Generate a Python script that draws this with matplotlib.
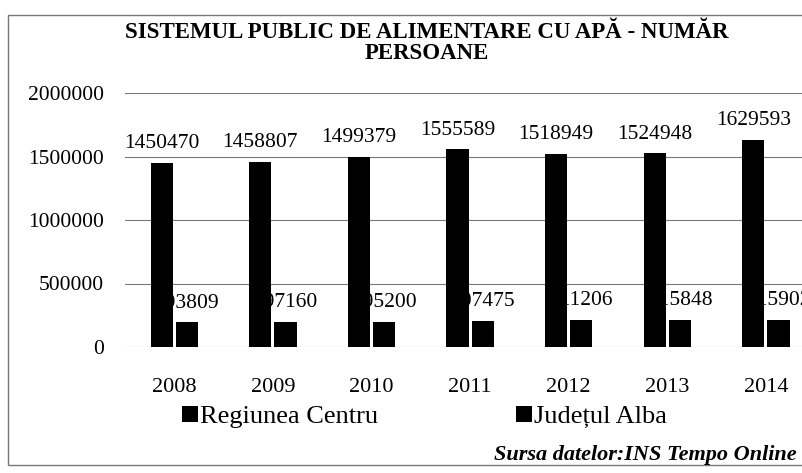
import matplotlib
matplotlib.use('Agg')
import matplotlib.pyplot as plt
from matplotlib.patches import Rectangle
import numpy as np

plt.rcParams['font.family'] = ['Liberation Serif', 'DejaVu Serif']

years = ['2008', '2009', '2010', '2011', '2012', '2013', '2014']
centru = [1450470, 1458807, 1499379, 1555589, 1518949, 1524948, 1629593]
alba = [193809, 197160, 195200, 207475, 211206, 215848, 215902]

W, H = 803, 473
fig = plt.figure(figsize=(W / 100, H / 100), dpi=100)
ax = fig.add_axes([125 / W, 1 - 347 / H, 1 - 125 / W, (347 - 93) / H])

x = np.arange(len(years))
w = 0.225
b1 = ax.bar(x - 0.127, centru, w, color='black', zorder=3, label='Regiunea Centru')
b2 = ax.bar(x + 0.127, alba, w, color='black', zorder=3, label='Județul Alba')

ax.bar_label(b1, labels=[str(v) for v in centru], padding=7, fontsize=15.5, zorder=4)
lab2 = ax.bar_label(b2, labels=[str(v) for v in alba], padding=7, fontsize=15.5)
for t in lab2:
    t.set_zorder(2)  # behind the Centru bars, like the original

ax.set_ylim(0, 2000000)
ax.set_yticks([0, 500000, 1000000, 1500000, 2000000])
ax.ticklabel_format(axis='y', style='plain', useOffset=False)
ax.set_xlim(-0.5, -0.5 + (W - 125) / 98.6)
ax.set_xticks(x)
ax.set_xticklabels(years)
ax.tick_params(axis='y', length=0, pad=15, labelsize=15.5)
ax.tick_params(axis='x', length=0, pad=22, labelsize=16)
ax.grid(axis='y', color='#777777', linewidth=0.8, zorder=0)
ax.set_axisbelow(True)
for s in ax.spines.values():
    s.set_visible(False)

fig.text(427 / W, 1 - 43 / H, 'SISTEMUL PUBLIC DE ALIMENTARE CU APĂ - NUMĂR\nPERSOANE',
         ha='center', va='center', fontsize=16.5, fontweight='bold', linespacing=0.95)

fig.legend(handles=[b1, b2], loc='center left', bbox_to_anchor=(182 / W, 1 - 417 / H),
           ncol=2, frameon=False, fontsize=19, handlelength=0.6, handleheight=0.6,
           handletextpad=0.1, columnspacing=5.2, borderpad=0, borderaxespad=0)

fig.text(797 / W, 1 - 455 / H, 'Sursa datelor:INS Tempo Online', ha='right', va='center',
         fontsize=16, fontweight='bold', fontstyle='italic')

fig.patches.append(Rectangle((8 / W, 1 - 465 / H), 1.0, (465 - 15) / H, transform=fig.transFigure,
                             fill=False, edgecolor='#777777', linewidth=1))

fig.savefig('out.png', dpi=100)
